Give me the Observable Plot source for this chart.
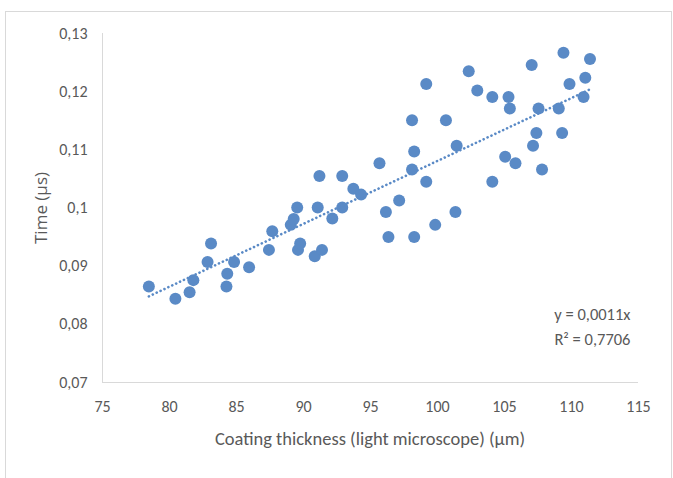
<!DOCTYPE html>
<html>
<head>
<meta charset="utf-8">
<script src="https://cdn.jsdelivr.net/npm/d3@7"></script>
<script src="https://cdn.jsdelivr.net/npm/@observablehq/plot@0.6"></script>
<style>
  html, body { margin: 0; padding: 0; background: #fff; }
  #wrap { position: relative; width: 673px; height: 478px; overflow: hidden; }
  #frame { position: absolute; left: 5px; top: 11px; width: 667px; height: 475px; border: 1px solid #d9d9d9; box-sizing: border-box; pointer-events: none; }
  #wrap svg { position: absolute; left: 0; top: 0; }
</style>
</head>
<body>
<div id="wrap"><div id="frame"></div></div>
<script>
// Coating thickness (light microscope) (µm)
const thickness = [
  78.46, 80.44, 81.5, 81.78, 82.84, 83.1, 84.25, 84.31, 84.82, 85.94,
  87.42, 87.67, 89.05, 89.27, 89.53, 89.59, 89.75, 90.84, 91.06, 91.19,
  91.38, 92.15, 92.89, 92.89, 93.72, 94.3, 95.67, 96.15, 96.34, 97.14,
  98.1, 98.1, 98.26, 98.26, 99.16, 99.16, 99.83, 100.63, 101.34, 101.43,
  102.33, 102.97, 104.09, 104.09, 105.05, 105.3, 105.4, 105.82, 107.03, 107.13,
  107.38, 107.54, 107.8, 109.05, 109.3, 109.4, 109.85, 110.9, 111.03, 111.38
];
// Time (µs)
const time = [
  0.0865, 0.0844, 0.0855, 0.0876, 0.0907, 0.0939, 0.0865, 0.0887, 0.0907, 0.0898,
  0.0928, 0.0960, 0.0971, 0.0981, 0.1001, 0.0928, 0.0939, 0.0917, 0.1001, 0.1055,
  0.0928, 0.0982, 0.1055, 0.1001, 0.1033, 0.1023, 0.1077, 0.0993, 0.0950, 0.1013,
  0.1151, 0.1066, 0.1097, 0.0950, 0.1213, 0.1045, 0.0971, 0.1151, 0.0993, 0.1107,
  0.1235, 0.1202, 0.1191, 0.1045, 0.1088, 0.1191, 0.1171, 0.1077, 0.1246, 0.1107,
  0.1129, 0.1171, 0.1066, 0.1171, 0.1129, 0.1267, 0.1213, 0.1191, 0.1224, 0.1256
];
const xTicks = [75, 80, 85, 90, 95, 100, 105, 110, 115];
const yTicks = [0.07, 0.08, 0.09, 0.1, 0.11, 0.12, 0.13];
const xLabel = "Coating thickness (light microscope) (µm)";
const yLabel = "Time (µs)";
const eqLines = ["y = 0,0011x", "R² = 0,7706"];

const points = thickness.map((x, i) => ({x, y: time[i]}));
// linear trendline through the origin (least squares)
const sxy = d3.sum(points, d => d.x * d.y);
const sxx = d3.sum(points, d => d.x * d.x);
const k = sxy / sxx;
const xmin = d3.min(thickness), xmax = d3.max(thickness);
const trend = [{x: xmin, y: k * xmin}, {x: xmax, y: k * xmax}];

const fmt = v => String(v).replace(".", ",");
const narrow = "Carlito, 'Liberation Sans Narrow', 'Roboto Condensed', 'DejaVu Sans Condensed', sans-serif";
const grey = "#595959";
const blue = "#5a8ac6";

const chart = Plot.plot({
  width: 673,
  height: 478,
  marginLeft: 102,
  marginRight: 35,
  marginTop: 33,
  marginBottom: 96,
  style: {fontFamily: narrow, fontSize: "16px", color: grey, background: "transparent"},
  x: {domain: [75, 115], ticks: xTicks, tickFormat: fmt, tickSize: 0, tickPadding: 18, label: null},
  y: {domain: [0.07, 0.13], ticks: yTicks, tickFormat: fmt, tickSize: 0, tickPadding: 15, label: null},
  marks: [
    Plot.ruleX([75], {stroke: "#d9d9d9", strokeWidth: 1}),
    Plot.ruleY([0.07], {stroke: "#d9d9d9", strokeWidth: 1}),
    Plot.dot(points, {x: "x", y: "y", r: 6, fill: blue, stroke: "none"}),
    Plot.line(trend, {x: "x", y: "y", stroke: blue, strokeWidth: 2.6, strokeDasharray: "0.1 4.2", strokeLinecap: "round"}),
    Plot.text([eqLines.join("\n")], {frameAnchor: "bottom-right", dx: -8, dy: -38, textAnchor: "end", lineAnchor: "bottom", lineHeight: 1.5, fontSize: 16.5, fill: grey}),
    Plot.axisX({ticks: xTicks, tickFormat: fmt, tickSize: 0, tickPadding: 18, label: null, fontSize: 16}),
    Plot.axisY({ticks: yTicks, tickFormat: fmt, tickSize: 0, tickPadding: 15, label: null, fontSize: 16})
  ]
});
document.getElementById("wrap").appendChild(chart);

// axis titles, as SVG text
const svg = d3.select(chart);
svg.append("text")
  .attr("x", 370).attr("y", 441)
  .attr("text-anchor", "middle").attr("dominant-baseline", "middle")
  .attr("fill", grey).attr("font-size", 18.5).attr("font-family", narrow)
  .text(xLabel);
svg.append("text")
  .attr("transform", "translate(42,208) rotate(-90)")
  .attr("text-anchor", "middle").attr("dominant-baseline", "middle")
  .attr("fill", grey).attr("font-size", 17).attr("font-family", "'Open Sans', 'DejaVu Sans', sans-serif")
  .text(yLabel);
</script>
</body>
</html>
